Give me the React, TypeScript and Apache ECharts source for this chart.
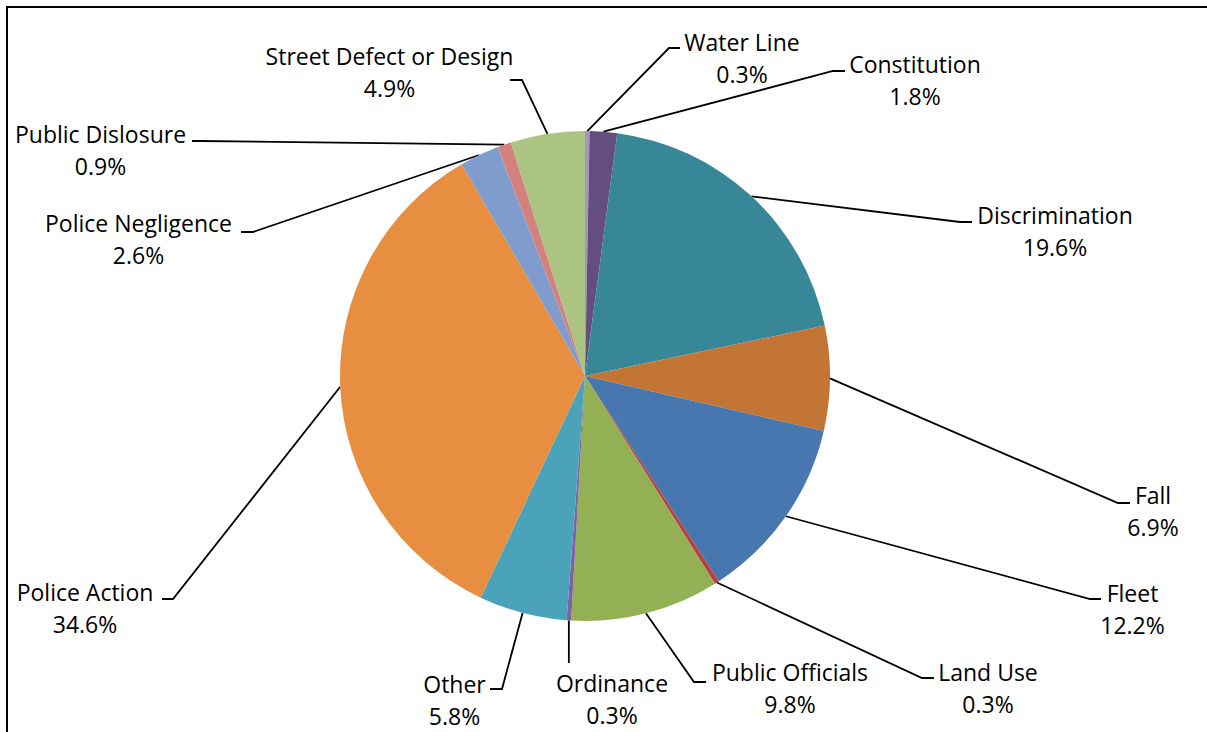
import React, { useEffect, useRef } from 'react';
import * as echarts from 'echarts';

const categories = [
  'Water Line',
  'Constitution',
  'Discrimination',
  'Fall',
  'Fleet',
  'Land Use',
  'Public Officials',
  'Ordinance',
  'Other',
  'Police Action',
  'Police Negligence',
  'Public Dislosure',
  'Street Defect or Design',
];

const shares = [0.3, 1.8, 19.6, 6.9, 12.2, 0.3, 9.8, 0.3, 5.8, 34.6, 2.6, 0.9, 4.9];

const sliceColors = [
  '#A594C6', '#634E7E', '#388798', '#C37535', '#4877AF', '#B9403F', '#93B055',
  '#7F62A2', '#4AA3BA', '#E88E41', '#7F9CCD', '#D3817F', '#ABC481',
];

// layout only: label centre x, centre y, elbow x, elbow y, end x, end y
const labelPlacement = [
  [742, 57.5, 669, 48, 680, 48],
  [915, 80, 833, 71, 845, 71],
  [1055, 230.5, 960, 222, 972, 222],
  [1153, 511, 1118, 503, 1130, 503],
  [1132.5, 608.5, 1090, 599, 1101, 599],
  [988, 687.5, 922, 678, 934, 678],
  [790, 687.5, 694, 682, 706, 682],
  [612, 699, -1, 663, -1, 663],
  [454.5, 700, 502, 689, 490, 689],
  [85, 608, 173, 599, 162, 599],
  [138.5, 238.5, 253, 232, 241, 232],
  [100.5, 149.5, 200, 141, 192, 141],
  [389.5, 71.5, 522, 80, 510, 80],
];

export default function App() {
  const ref = useRef<HTMLDivElement>(null);
  useEffect(() => {
    document.body.style.margin = '0';
    if (!ref.current) return;
    const chart = echarts.init(ref.current, undefined, { renderer: 'svg' });
    chart.setOption({
      animation: false,
      backgroundColor: '#fff',
      graphic: [
        {
          type: 'polyline',
          shape: { points: [[7, 740], [7, 7], [1210, 7]] },
          style: { stroke: '#000', lineWidth: 2, fill: null },
          silent: true,
        },
      ],
      series: [
        {
          type: 'pie',
          center: [585, 376],
          radius: 245,
          startAngle: 90,
          clockwise: true,
          avoidLabelOverlap: false,
          percentPrecision: 1,
          silent: true,
          itemStyle: { borderWidth: 0 },
          emphasis: { disabled: true },
          label: {
            show: true,
            position: 'outside',
            formatter: '{b}\n{d}%',
            color: '#000',
            fontSize: 23,
            fontFamily: 'Open Sans',
            lineHeight: 32,
            align: 'center',
          },
          labelLine: {
            show: true,
            length: 20,
            length2: 10,
            lineStyle: { color: '#000', width: 1.8 },
          },
          labelLayout: (p: any) => {
            const pl = labelPlacement[p.dataIndex];
            const start = p.labelLinePoints ? p.labelLinePoints[0] : [pl[2], pl[3]];
            const ex = pl[2] < 0 ? start[0] : pl[2];
            const endX = pl[4] < 0 ? start[0] : pl[4];
            return {
              x: pl[0],
              y: pl[1],
              align: 'center',
              verticalAlign: 'middle',
              labelLinePoints: [start, [ex, pl[3]], [endX, pl[5]]],
            };
          },
          data: categories.map((name, i) => ({
            name,
            value: shares[i],
            itemStyle: { color: sliceColors[i] },
          })),
        },
      ],
    });
    return () => chart.dispose();
  }, []);
  return <div ref={ref} style={{ width: 1207, height: 732 }} />;
}
